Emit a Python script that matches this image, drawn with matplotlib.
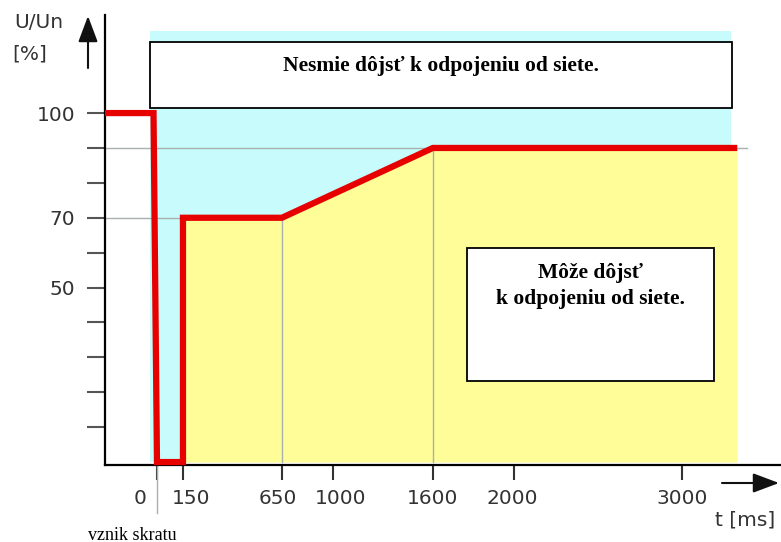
import numpy as np
import matplotlib

matplotlib.use("Agg")
import matplotlib.pyplot as plt
from matplotlib.patches import Rectangle
from matplotlib.transforms import ScaledTranslation

# voltage-time curve (t in ms, U in % of Un)
T_CURVE = [-300, -20, 0, 150, 150, 650, 1600, 3330]
U_CURVE = [100, 100, 0, 0, 70, 70, 90, 90]

X_TICKS = [0, 150, 650, 1000, 1600, 2000, 3000]
Y_TICKS = [10, 20, 30, 40, 50, 60, 70, 80, 90, 100]
Y_LABELED = [50, 70, 100]

# the drawing uses a schematic (non-uniform) time axis
T_ANCH = [-10000, -300, 0, 150, 650, 1000, 1600, 2000, 3000, 3600, 20000]
P_ANCH = [-1573, 105, 157, 183, 282, 333, 433, 514, 682, 783, 3537]

W, H = 781, 542
RED = "#e60000"
BLUE = "#c8fbfb"
YELLOW = "#fffd98"
GRID = "#a8b0b0"


def fwd(t):
    return np.interp(t, T_ANCH, P_ANCH)


def inv(p):
    return np.interp(p, P_ANCH, T_ANCH)


def fx(x):
    return x / W


def fy(y):
    return 1 - y / H


fig = plt.figure(figsize=(W / 100, H / 100), dpi=100)
ax = fig.add_axes([fx(105), fy(464.5), fx(781) - fx(105), fy(15) - fy(464.5)])
ax.set_xscale("function", functions=(fwd, inv))
ax.set_xlim(-300, 3590)
ax.set_ylim(-0.7, 128.1)

# zones
ax.fill_between([-40, 3290], 0, 123.5, color=BLUE, lw=0, zorder=1)
ax.fill_between(T_CURVE[4:], U_CURVE[4:], 0, color=YELLOW, lw=0, zorder=1.2)

# thin reference lines
ax.plot([-300, 3390], [90, 90], color=GRID, lw=1, zorder=2)
ax.plot([-300, 150], [70, 70], color=GRID, lw=1, zorder=2)
ax.plot([650, 650], [0, 70], color=GRID, lw=1, zorder=2)
ax.plot([1600, 1600], [0, 90], color=GRID, lw=1, zorder=2)
ax.plot([0, 0], [0, -14.5], color=GRID, lw=1, zorder=2, clip_on=False)

ax.plot(T_CURVE, U_CURVE, color=RED, lw=4.5, solid_joinstyle="miter",
        solid_capstyle="butt", zorder=4, clip_on=False)

for s in ["top", "right"]:
    ax.spines[s].set_visible(False)
for s in ["left", "bottom"]:
    ax.spines[s].set_linewidth(1.6)
    ax.spines[s].set_zorder(3)

ax.set_yticks(Y_TICKS)
ax.set_yticklabels([str(v) if v in Y_LABELED else "" for v in Y_TICKS])
ax.set_xticks(X_TICKS)
ax.set_xticklabels([str(v) for v in X_TICKS])
ax.tick_params(axis="y", length=13, width=1.5, pad=8.5, labelsize=14.5,
               color="#555555", labelcolor="#333333")
ax.tick_params(axis="x", length=11, width=1.5, pad=6.5, labelsize=14.5,
               color="#333333", labelcolor="#333333")

# nudge x labels like in the drawing
nudge = {"0": -17, "150": 8, "650": -4, "1000": 8, "2000": -2}
for lab in ax.get_xticklabels():
    dx = nudge.get(lab.get_text(), 0)
    lab.set_transform(lab.get_transform() + ScaledTranslation(dx / 100, 0, fig.dpi_scale_trans))

# text boxes
serif = "Liberation Serif"
fig.patches.append(Rectangle((fx(150), fy(108)), fx(732) - fx(150), fy(42) - fy(108),
                             transform=fig.transFigure, facecolor="white",
                             edgecolor="black", lw=1.3, zorder=5))
fig.text(fx(441), fy(66), "Nesmie dôjsť k odpojeniu od siete.", family=serif,
         weight="bold", size=15.5, ha="center", va="center", zorder=6)
fig.patches.append(Rectangle((fx(467), fy(381)), fx(714) - fx(467), fy(248) - fy(381),
                             transform=fig.transFigure, facecolor="white",
                             edgecolor="black", lw=1.3, zorder=5))
fig.text(fx(591), fy(286), "Môže dôjsť\nk odpojeniu od siete.", family=serif,
         weight="bold", size=15.5, ha="center", va="center",
         multialignment="center", linespacing=1.4, zorder=6)

# axis arrows and labels
arrow = dict(arrowstyle="-|>,head_length=0.8,head_width=0.3", color="#111111",
             lw=1.5, mutation_scale=20, shrinkA=0, shrinkB=0)
ax.annotate("", xy=(779, H - 483), xytext=(722, H - 483),
            xycoords="figure pixels", textcoords="figure pixels", arrowprops=arrow)
ax.annotate("", xy=(88, H - 16), xytext=(88, H - 68),
            xycoords="figure pixels", textcoords="figure pixels", arrowprops=arrow)

fig.text(fx(14), fy(13), "U/Un", size=14.5, color="#333333", va="top", ha="left")
fig.text(fx(12), fy(44), "[%]", size=14.5, color="#333333", va="top", ha="left")
fig.text(fx(745), fy(520), "t [ms]", size=14.5, color="#333333", va="center", ha="center")
fig.text(fx(88), fy(535), "vznik skratu", family=serif, size=13, va="center", ha="left")

fig.savefig("out.png", dpi=100)
plt.close(fig)
